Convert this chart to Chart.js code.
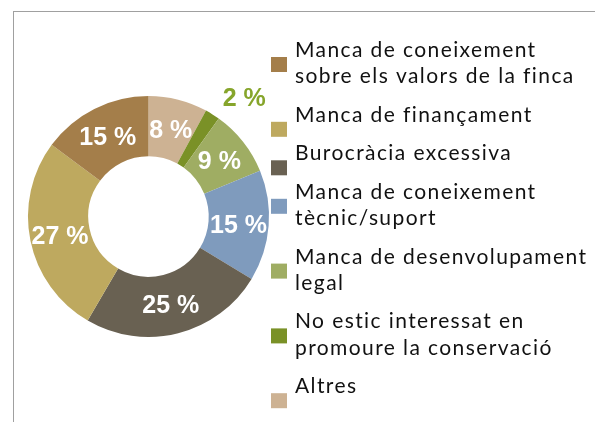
<!DOCTYPE html>
<html>
<head>
<meta charset="utf-8">
<script src="https://cdn.jsdelivr.net/npm/chart.js@4/dist/chart.umd.min.js"></script>
<style>
  html, body { margin: 0; padding: 0; background: #fff; overflow: hidden; }
  canvas { display: block; }
</style>
</head>
<body>
<canvas id="myCanvas" width="595" height="422"></canvas>
<script>
// legend order (top to bottom)
let categories = [
    'Manca de coneixement\nsobre els valors de la finca',
    'Manca de finançament',
    'Burocràcia excessiva',
    'Manca de coneixement\ntècnic/suport',
    'Manca de desenvolupament\nlegal',
    'No estic interessat en\npromoure la conservació',
    'Altres'
];
let percentages = [15, 27, 25, 15, 9, 2, 8];
let sliceColors = ['#a47e4a', '#bea95f', '#696152', '#7f9bbd', '#9fad63', '#7a9127', '#cdb293'];

// slices run the other way round from the legend
let ringLabels = categories.slice().reverse();
let ringValues = percentages.slice().reverse();
let ringColors = sliceColors.slice().reverse();

let framePlugin = {
    id: 'frame',
    beforeDraw(chart) {
        let ctx = chart.ctx;
        ctx.save();
        ctx.fillStyle = '#fff';
        ctx.fillRect(0, 0, chart.width, chart.height);
        ctx.strokeStyle = '#a0a0a0';
        ctx.lineWidth = 1;
        ctx.strokeRect(13.5, 11.5, 800, 800);
        ctx.restore();
    }
};

let sliceLabelPlugin = {
    id: 'sliceLabels',
    afterDatasetsDraw(chart) {
        let ctx = chart.ctx;
        let meta = chart.getDatasetMeta(0);
        ctx.save();
        ctx.font = 'bold 25px "Liberation Sans"';
        ctx.textBaseline = 'alphabetic';
        meta.data.forEach((arc, i) => {
            let value = chart.data.datasets[0].data[i];
            let text = value + ' %';
            if (value < 5) {
                // small slice: label goes outside
                let mid = (arc.startAngle + arc.endAngle) / 2;
                let r = arc.outerRadius + 8;
                let x = arc.x + Math.cos(mid) * r;
                let y = arc.y + Math.sin(mid) * r;
                ctx.fillStyle = '#86a52b';
                ctx.textAlign = 'left';
                ctx.fillText(text, x + 6, y - 1.5);
            } else {
                let pos = arc.tooltipPosition();
                ctx.fillStyle = '#ffffff';
                ctx.textAlign = 'center';
                ctx.fillText(text, pos.x, pos.y + 9);
            }
        });
        ctx.restore();
    }
};

let sideLegendPlugin = {
    id: 'sideLegend',
    afterDraw(chart) {
        let ctx = chart.ctx;
        ctx.save();
        ctx.font = '21px Lato';
        ctx.letterSpacing = '1.4px';
        ctx.textAlign = 'left';
        ctx.textBaseline = 'alphabetic';
        let y = 57;
        categories.forEach((cat, i) => {
            let lines = cat.split('\n');
            ctx.fillStyle = sliceColors[i];
            ctx.fillRect(271, y, 16, 15);
            ctx.fillStyle = '#111';
            lines.forEach((line, j) => ctx.fillText(line, 295, y + j * 26.3));
            y += (lines.length - 1) * 26.3 + 38.5;
        });
        ctx.restore();
    }
};

let canvas = document.getElementById('myCanvas');
let ctx = canvas.getContext('2d');

new Chart(ctx, {
    type: 'doughnut',
    data: {
        labels: ringLabels,
        datasets: [{
            data: ringValues,
            backgroundColor: ringColors,
            borderWidth: 0,
            hoverOffset: 0
        }]
    },
    options: {
        responsive: false,
        devicePixelRatio: 1,
        animation: false,
        cutout: '50%',
        layout: {
            padding: { left: 28, top: 96, right: 326, bottom: 85 }
        },
        plugins: {
            legend: { display: false },
            tooltip: { enabled: false }
        }
    },
    plugins: [framePlugin, sliceLabelPlugin, sideLegendPlugin]
});
</script>
</body>
</html>
